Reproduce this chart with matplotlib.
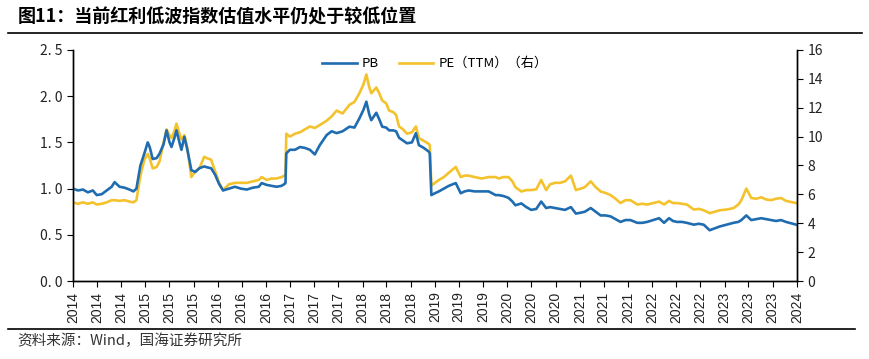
import matplotlib.pyplot as plt
import matplotlib.dates as mdates
import numpy as np
import pandas as pd

plt.rcParams['font.family'] = ['Noto Sans CJK SC', 'DejaVu Sans']

# 红利低波指数 估值
dates = ['2014-01-01', '2014-01-26', '2014-02-20', '2014-03-17', '2014-04-11', '2014-05-01',
         '2014-05-26', '2014-06-20', '2014-07-15', '2014-07-30', '2014-08-24', '2014-09-18',
         '2014-10-13', '2014-11-02', '2014-11-17', '2014-12-07', '2014-12-27', '2015-01-13',
         '2015-01-23', '2015-02-07', '2015-02-27', '2015-03-14', '2015-04-03', '2015-04-18',
         '2015-05-03', '2015-05-13', '2015-05-28', '2015-06-07', '2015-06-22', '2015-07-02',
         '2015-07-17', '2015-08-01', '2015-08-21', '2015-09-10', '2015-09-30', '2015-10-25',
         '2015-11-09', '2015-11-29', '2015-12-19', '2016-01-08', '2016-01-28', '2016-02-27',
         '2016-03-28', '2016-04-27', '2016-05-27', '2016-06-26', '2016-07-26', '2016-08-10',
         '2016-09-04', '2016-09-29', '2016-10-24', '2016-11-18', '2016-12-03', '2016-12-08',
         '2016-12-12', '2016-12-30', '2017-01-25', '2017-02-19', '2017-03-16', '2017-04-10',
         '2017-05-05', '2017-05-30', '2017-07-04', '2017-07-29', '2017-08-23', '2017-09-22',
         '2017-10-27', '2017-11-21', '2017-12-16', '2018-01-05', '2018-01-20', '2018-02-04',
         '2018-02-14', '2018-03-11', '2018-03-26', '2018-04-10', '2018-04-30', '2018-05-15',
         '2018-06-04', '2018-06-19', '2018-07-04', '2018-07-24', '2018-08-13', '2018-09-07',
         '2018-09-27', '2018-10-12', '2018-11-06', '2018-12-01', '2018-12-06', '2018-12-14',
         '2019-01-01', '2019-01-21', '2019-02-15', '2019-03-12', '2019-04-16', '2019-05-11',
         '2019-05-31', '2019-06-20', '2019-07-20', '2019-08-25', '2019-09-29', '2019-11-03',
         '2019-11-18', '2019-12-13', '2020-01-07', '2020-01-27', '2020-02-11', '2020-03-12',
         '2020-04-06', '2020-05-01', '2020-05-26', '2020-06-20', '2020-07-15', '2020-08-04',
         '2020-08-29', '2020-09-23', '2020-10-18', '2020-11-17', '2020-12-12', '2021-01-06',
         '2021-01-26', '2021-02-25', '2021-03-22', '2021-04-16', '2021-05-11', '2021-06-05',
         '2021-06-30', '2021-07-25', '2021-08-19', '2021-09-13', '2021-10-18', '2021-11-12',
         '2021-12-07', '2022-01-06', '2022-02-05', '2022-03-02', '2022-03-27', '2022-04-16',
         '2022-05-06', '2022-05-31', '2022-06-25', '2022-07-30', '2022-08-24', '2022-09-18',
         '2022-10-18', '2022-11-12', '2022-12-07', '2023-01-11', '2023-02-15', '2023-03-12',
         '2023-03-27', '2023-04-21', '2023-05-16', '2023-06-10', '2023-07-05', '2023-07-30',
         '2023-08-24', '2023-09-18', '2023-10-13', '2023-11-07', '2023-12-29']

pb = [1.00, 0.98, 0.99, 0.96, 0.98, 0.93,
      0.94, 0.98, 1.02, 1.07, 1.02, 1.01,
      0.99, 0.97, 1.00, 1.25, 1.38, 1.50,
      1.45, 1.32, 1.33, 1.38, 1.48, 1.63,
      1.50, 1.45, 1.55, 1.63, 1.50, 1.42,
      1.56, 1.42, 1.20, 1.18, 1.22, 1.24,
      1.23, 1.22, 1.15, 1.05, 0.98, 1.00,
      1.02, 1.00, 0.99, 1.01, 1.02, 1.06,
      1.04, 1.03, 1.02, 1.03, 1.05, 1.06,
      1.38, 1.42, 1.42, 1.45, 1.44, 1.42,
      1.37, 1.47, 1.58, 1.62, 1.60, 1.62,
      1.67, 1.66, 1.76, 1.85, 1.94, 1.80,
      1.74, 1.82, 1.75, 1.67, 1.66, 1.63,
      1.63, 1.62, 1.55, 1.52, 1.49, 1.50,
      1.60, 1.47, 1.44, 1.40, 1.38, 0.93,
      0.95, 0.97, 1.00, 1.03, 1.06, 0.95,
      0.97, 0.98, 0.97, 0.97, 0.97, 0.93,
      0.93, 0.92, 0.90, 0.86, 0.82, 0.84,
      0.80, 0.77, 0.78, 0.86, 0.79, 0.80,
      0.79, 0.78, 0.77, 0.80, 0.73, 0.74,
      0.75, 0.79, 0.75, 0.71, 0.71, 0.70,
      0.67, 0.64, 0.66, 0.66, 0.63, 0.63,
      0.64, 0.66, 0.68, 0.63, 0.68, 0.65,
      0.64, 0.64, 0.63, 0.61, 0.62, 0.61,
      0.55, 0.57, 0.59, 0.61, 0.63, 0.64,
      0.66, 0.71, 0.66, 0.67, 0.68, 0.67,
      0.66, 0.65, 0.66, 0.64, 0.61]

pe = [5.45, 5.35, 5.45, 5.35, 5.45, 5.30,
      5.35, 5.45, 5.60, 5.60, 5.55, 5.60,
      5.50, 5.45, 5.60, 7.30, 8.40, 8.80,
      8.50, 7.80, 7.90, 8.30, 9.60, 10.5,
      10.1, 9.90, 10.4, 10.9, 10.2, 9.80,
      10.1, 9.20, 7.20, 7.60, 7.80, 8.60,
      8.50, 8.40, 7.60, 6.80, 6.30, 6.70,
      6.80, 6.80, 6.80, 6.90, 7.00, 7.20,
      7.00, 7.10, 7.10, 7.20, 7.30, 7.30,
      10.2, 10.0, 10.2, 10.3, 10.5, 10.7,
      10.6, 10.8, 11.1, 11.4, 11.8, 11.6,
      12.2, 12.4, 13.0, 13.6, 14.3, 13.4,
      13.0, 13.4, 13.0, 12.5, 12.3, 11.8,
      11.7, 11.5, 10.7, 10.5, 10.2, 10.3,
      10.7, 9.90, 9.70, 9.50, 9.40, 6.60,
      6.80, 7.00, 7.20, 7.50, 7.90, 7.20,
      7.30, 7.30, 7.20, 7.10, 7.20, 7.20,
      7.10, 7.20, 7.20, 6.90, 6.50, 6.20,
      6.30, 6.30, 6.35, 7.00, 6.30, 6.70,
      6.80, 6.80, 6.90, 7.30, 6.30, 6.40,
      6.50, 6.90, 6.50, 6.20, 6.10, 5.95,
      5.70, 5.40, 5.60, 5.60, 5.30, 5.35,
      5.30, 5.40, 5.50, 5.30, 5.55, 5.40,
      5.40, 5.35, 5.30, 4.95, 5.00, 4.90,
      4.70, 4.80, 4.90, 4.95, 5.05, 5.30,
      5.60, 6.40, 5.75, 5.70, 5.80, 5.65,
      5.60, 5.70, 5.75, 5.55, 5.40]

title = '图11：当前红利低波指数估值水平仍处于较低位置'
source = '资料来源：Wind，国海证券研究所'

x = pd.to_datetime(dates)

fig = plt.figure(figsize=(8.69, 3.59), dpi=100)
ax = fig.add_axes([0.084, 0.217, 0.833, 0.644])
ax2 = ax.twinx()

l1, = ax.plot(x, pb, color='#1f6db0', lw=1.9, label='PB')
l2, = ax2.plot(x, pe, color='#f3c22c', lw=1.9, label='PE（TTM）（右）')
ax.set_zorder(ax2.get_zorder() + 1)
ax.patch.set_visible(False)

yl = np.arange(0, 2.51, 0.5)
ax.set_ylim(0, 2.5)
ax.set_yticks(yl)
ax.set_yticklabels([('%.1f' % v).replace('.', '. ') for v in yl])
ax2.set_ylim(0, 16)
ax2.set_yticks(range(0, 17, 2))

ax.set_xlim(pd.Timestamp('2014-01-01'), pd.Timestamp('2024-01-01'))
ax.xaxis.set_major_locator(mdates.MonthLocator(bymonth=[1, 5, 9]))
ax.xaxis.set_major_formatter(mdates.DateFormatter('%Y'))

for a in (ax, ax2):
    a.spines['top'].set_visible(False)
    for s in ('left', 'right', 'bottom'):
        a.spines[s].set_color('black')
        a.spines[s].set_linewidth(1.0)
    a.tick_params(labelsize=10, length=4, color='black', labelcolor='#222222')

for lab in ax.get_xticklabels():
    lab.set_rotation(90)
    lab.set_family(['Liberation Sans', 'DejaVu Sans'])
    lab.set_fontsize(10)

ax.legend(handles=[l1, l2], loc='upper center', bbox_to_anchor=(0.5, 1.02), ncol=2,
          frameon=False, fontsize=9.5, handlelength=2.6, handletextpad=0.4,
          columnspacing=1.5)

fig.text(0.02, 0.953, title, fontsize=13, fontweight='bold', va='center', ha='left')
fig.add_artist(plt.Line2D([0.009, 0.992], [0.908, 0.908], color='black', lw=1.2))
fig.add_artist(plt.Line2D([0.009, 0.984], [0.084, 0.084], color='black', lw=1.2))
fig.text(0.02, 0.052, source, fontsize=10.5, va='center', ha='left', color='#333333')

fig.savefig('out.png', dpi=100)
